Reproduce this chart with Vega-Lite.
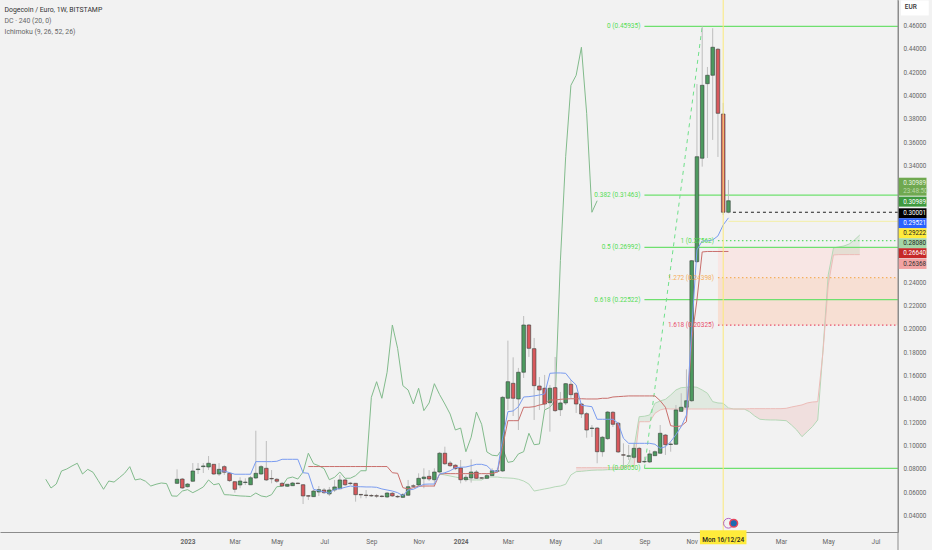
{
  "$schema": "https://vega.github.io/schema/vega-lite/v6.json",
  "width": 898,
  "height": 532,
  "autosize": "none",
  "padding": {"left": 0, "top": 0, "right": 34, "bottom": 18},
  "background": "#f2f2f2",
  "config": {"view": {"stroke": null}, "font": "Roboto", "text": {"font": "Roboto"}},
  "resolve": {"scale": {"color": "independent"}, "axis": {"x": "independent", "y": "independent"}},
  "datasets": {
    "candles": [
      {"week":"2022-12-19","o":0.0677,"h":0.0797,"l":0.0671,"c":0.0712,"lag":"2022-06-27"},
      {"week":"2022-12-26","o":0.0714,"h":0.0723,"l":0.0629,"c":0.0637,"lag":"2022-07-04"},
      {"week":"2023-01-02","o":0.0648,"h":0.068,"l":0.0641,"c":0.0671,"lag":"2022-07-11"},
      {"week":"2023-01-09","o":0.0695,"h":0.0851,"l":0.0689,"c":0.0783,"lag":"2022-07-18"},
      {"week":"2023-01-16","o":0.0795,"h":0.0851,"l":0.0757,"c":0.08,"lag":"2022-07-25"},
      {"week":"2023-01-23","o":0.082,"h":0.0851,"l":0.0766,"c":0.0826,"lag":"2022-08-01"},
      {"week":"2023-01-30","o":0.0817,"h":0.0911,"l":0.0791,"c":0.0849,"lag":"2022-08-08"},
      {"week":"2023-02-06","o":0.084,"h":0.0843,"l":0.0749,"c":0.0757,"lag":"2022-08-15"},
      {"week":"2023-02-13","o":0.0757,"h":0.0851,"l":0.074,"c":0.0797,"lag":"2022-08-22"},
      {"week":"2023-02-20","o":0.082,"h":0.0834,"l":0.0749,"c":0.0772,"lag":"2022-08-29"},
      {"week":"2023-02-27","o":0.0763,"h":0.0774,"l":0.0689,"c":0.07,"lag":"2022-09-05"},
      {"week":"2023-03-06","o":0.0691,"h":0.0697,"l":0.0597,"c":0.0626,"lag":"2022-09-12"},
      {"week":"2023-03-13","o":0.0663,"h":0.0729,"l":0.0635,"c":0.0697,"lag":"2022-09-19"},
      {"week":"2023-03-20","o":0.0684,"h":0.072,"l":0.0663,"c":0.0688,"lag":"2022-09-26"},
      {"week":"2023-03-27","o":0.0665,"h":0.074,"l":0.0663,"c":0.0725,"lag":"2022-10-03"},
      {"week":"2023-04-03","o":0.0723,"h":0.1128,"l":0.0714,"c":0.0763,"lag":"2022-10-10"},
      {"week":"2023-04-10","o":0.0757,"h":0.0834,"l":0.0749,"c":0.082,"lag":"2022-10-17"},
      {"week":"2023-04-17","o":0.0806,"h":0.104,"l":0.0697,"c":0.0706,"lag":"2022-10-24"},
      {"week":"2023-04-24","o":0.0719,"h":0.0791,"l":0.0677,"c":0.0715,"lag":"2022-10-31"},
      {"week":"2023-05-01","o":0.0712,"h":0.0723,"l":0.068,"c":0.0695,"lag":"2022-11-07"},
      {"week":"2023-05-08","o":0.0677,"h":0.0689,"l":0.0646,"c":0.0654,"lag":"2022-11-14"},
      {"week":"2023-05-15","o":0.0652,"h":0.0671,"l":0.0646,"c":0.0669,"lag":"2022-11-21"},
      {"week":"2023-05-22","o":0.0657,"h":0.0689,"l":0.0654,"c":0.068,"lag":"2022-11-28"},
      {"week":"2023-05-29","o":0.0679,"h":0.0684,"l":0.0671,"c":0.0675,"lag":"2022-12-05"},
      {"week":"2023-06-05","o":0.0665,"h":0.0671,"l":0.05,"c":0.0569,"lag":"2022-12-12"},
      {"week":"2023-06-12","o":0.0571,"h":0.0577,"l":0.0534,"c":0.0567,"lag":"2022-12-19"},
      {"week":"2023-06-19","o":0.0563,"h":0.062,"l":0.056,"c":0.0611,"lag":"2022-12-26"},
      {"week":"2023-06-26","o":0.0603,"h":0.0654,"l":0.0569,"c":0.0623,"lag":"2023-01-02"},
      {"week":"2023-07-03","o":0.062,"h":0.0637,"l":0.0586,"c":0.0597,"lag":"2023-01-09"},
      {"week":"2023-07-10","o":0.0586,"h":0.0646,"l":0.0569,"c":0.062,"lag":"2023-01-16"},
      {"week":"2023-07-17","o":0.062,"h":0.0706,"l":0.0603,"c":0.0646,"lag":"2023-01-23"},
      {"week":"2023-07-24","o":0.0631,"h":0.0749,"l":0.0629,"c":0.0706,"lag":"2023-01-30"},
      {"week":"2023-07-31","o":0.0706,"h":0.0714,"l":0.0654,"c":0.0665,"lag":"2023-02-06"},
      {"week":"2023-08-07","o":0.0679,"h":0.0689,"l":0.0663,"c":0.0675,"lag":"2023-02-13"},
      {"week":"2023-08-14","o":0.0677,"h":0.068,"l":0.052,"c":0.058,"lag":"2023-02-20"},
      {"week":"2023-08-21","o":0.0582,"h":0.0586,"l":0.0549,"c":0.0578,"lag":"2023-02-27"},
      {"week":"2023-08-28","o":0.0577,"h":0.062,"l":0.0549,"c":0.0573,"lag":"2023-03-06"},
      {"week":"2023-09-04","o":0.0573,"h":0.0586,"l":0.056,"c":0.0569,"lag":"2023-03-13"},
      {"week":"2023-09-11","o":0.0571,"h":0.0586,"l":0.0551,"c":0.0567,"lag":"2023-03-20"},
      {"week":"2023-09-18","o":0.0568,"h":0.0577,"l":0.0556,"c":0.0564,"lag":"2023-03-27"},
      {"week":"2023-09-25","o":0.056,"h":0.0603,"l":0.0551,"c":0.0594,"lag":"2023-04-03"},
      {"week":"2023-10-02","o":0.0592,"h":0.0603,"l":0.056,"c":0.0569,"lag":"2023-04-10"},
      {"week":"2023-10-09","o":0.0565,"h":0.0577,"l":0.0551,"c":0.0561,"lag":"2023-04-17"},
      {"week":"2023-10-16","o":0.0557,"h":0.0594,"l":0.0551,"c":0.058,"lag":"2023-04-24"},
      {"week":"2023-10-23","o":0.0575,"h":0.0706,"l":0.0569,"c":0.0648,"lag":"2023-05-01"},
      {"week":"2023-10-30","o":0.0656,"h":0.0671,"l":0.0637,"c":0.0652,"lag":"2023-05-08"},
      {"week":"2023-11-06","o":0.0663,"h":0.0763,"l":0.0654,"c":0.072,"lag":"2023-05-15"},
      {"week":"2023-11-13","o":0.0717,"h":0.0806,"l":0.0635,"c":0.0731,"lag":"2023-05-22"},
      {"week":"2023-11-20","o":0.0737,"h":0.0791,"l":0.0697,"c":0.0714,"lag":"2023-05-29"},
      {"week":"2023-11-27","o":0.0708,"h":0.0806,"l":0.0648,"c":0.0774,"lag":"2023-06-05"},
      {"week":"2023-12-04","o":0.0774,"h":0.0946,"l":0.0766,"c":0.0935,"lag":"2023-06-12"},
      {"week":"2023-12-11","o":0.0935,"h":0.0991,"l":0.0834,"c":0.0845,"lag":"2023-06-19"},
      {"week":"2023-12-18","o":0.0851,"h":0.0869,"l":0.0817,"c":0.0828,"lag":"2023-06-26"},
      {"week":"2023-12-25","o":0.0832,"h":0.0843,"l":0.0791,"c":0.0803,"lag":"2023-07-03"},
      {"week":"2024-01-01","o":0.0809,"h":0.0877,"l":0.0677,"c":0.0708,"lag":"2023-07-10"},
      {"week":"2024-01-08","o":0.0708,"h":0.0749,"l":0.0691,"c":0.0729,"lag":"2023-07-17"},
      {"week":"2024-01-15","o":0.0723,"h":0.0883,"l":0.0683,"c":0.0774,"lag":"2023-07-24"},
      {"week":"2024-01-22","o":0.0774,"h":0.0791,"l":0.0714,"c":0.072,"lag":"2023-07-31"},
      {"week":"2024-01-29","o":0.0725,"h":0.0731,"l":0.0714,"c":0.0721,"lag":"2023-08-07"},
      {"week":"2024-02-05","o":0.072,"h":0.0757,"l":0.0714,"c":0.0743,"lag":"2023-08-14"},
      {"week":"2024-02-12","o":0.0743,"h":0.0806,"l":0.074,"c":0.0785,"lag":"2023-08-21"},
      {"week":"2024-02-19","o":0.0781,"h":0.0809,"l":0.0766,"c":0.0785,"lag":"2023-08-28"},
      {"week":"2024-02-26","o":0.0783,"h":0.1426,"l":0.0774,"c":0.1414,"lag":"2023-09-04"},
      {"week":"2024-03-04","o":0.1406,"h":0.19,"l":0.1306,"c":0.1548,"lag":"2023-09-11"},
      {"week":"2024-03-11","o":0.1534,"h":0.1757,"l":0.1254,"c":0.1406,"lag":"2023-09-18"},
      {"week":"2024-03-18","o":0.14,"h":0.1666,"l":0.1134,"c":0.1629,"lag":"2023-09-25"},
      {"week":"2024-03-25","o":0.1629,"h":0.2111,"l":0.158,"c":0.2034,"lag":"2023-10-02"},
      {"week":"2024-04-01","o":0.2034,"h":0.2043,"l":0.176,"c":0.1834,"lag":"2023-10-09"},
      {"week":"2024-04-08","o":0.1831,"h":0.1923,"l":0.122,"c":0.1514,"lag":"2023-10-16"},
      {"week":"2024-04-15","o":0.1511,"h":0.1588,"l":0.1306,"c":0.1477,"lag":"2023-10-23"},
      {"week":"2024-04-22","o":0.1492,"h":0.1606,"l":0.1306,"c":0.1357,"lag":"2023-10-30"},
      {"week":"2024-04-29","o":0.1368,"h":0.152,"l":0.112,"c":0.1492,"lag":"2023-11-06"},
      {"week":"2024-05-06","o":0.1497,"h":0.176,"l":0.1288,"c":0.13,"lag":"2023-11-13"},
      {"week":"2024-05-13","o":0.1308,"h":0.146,"l":0.1254,"c":0.1366,"lag":"2023-11-20"},
      {"week":"2024-05-20","o":0.1366,"h":0.1537,"l":0.1348,"c":0.1531,"lag":"2023-11-27"},
      {"week":"2024-05-27","o":0.1526,"h":0.1563,"l":0.1408,"c":0.1437,"lag":"2023-12-04"},
      {"week":"2024-06-03","o":0.1449,"h":0.146,"l":0.128,"c":0.1357,"lag":"2023-12-11"},
      {"week":"2024-06-10","o":0.1357,"h":0.1366,"l":0.1237,"c":0.1271,"lag":"2023-12-18"},
      {"week":"2024-06-17","o":0.1274,"h":0.1288,"l":0.1068,"c":0.1134,"lag":"2023-12-25"},
      {"week":"2024-06-24","o":0.1147,"h":0.1177,"l":0.1074,"c":0.1151,"lag":"2024-01-01"},
      {"week":"2024-07-01","o":0.1151,"h":0.116,"l":0.0849,"c":0.0948,"lag":"2024-01-08"},
      {"week":"2024-07-08","o":0.0948,"h":0.1083,"l":0.0905,"c":0.1072,"lag":"2024-01-15"},
      {"week":"2024-07-15","o":0.106,"h":0.1297,"l":0.1049,"c":0.1288,"lag":"2024-01-22"},
      {"week":"2024-07-22","o":0.1286,"h":0.1297,"l":0.116,"c":0.1183,"lag":"2024-01-29"},
      {"week":"2024-07-29","o":0.1192,"h":0.1203,"l":0.0937,"c":0.0946,"lag":"2024-02-05"},
      {"week":"2024-08-05","o":0.0922,"h":0.102,"l":0.0805,"c":0.0918,"lag":"2024-02-12"},
      {"week":"2024-08-12","o":0.0909,"h":0.1006,"l":0.0877,"c":0.0913,"lag":"2024-02-19"},
      {"week":"2024-08-19","o":0.09,"h":0.1023,"l":0.0886,"c":0.0977,"lag":"2024-02-26"},
      {"week":"2024-08-26","o":0.0977,"h":0.0989,"l":0.0851,"c":0.0857,"lag":"2024-03-04"},
      {"week":"2024-09-02","o":0.0861,"h":0.0905,"l":0.0851,"c":0.0865,"lag":"2024-03-11"},
      {"week":"2024-09-09","o":0.086,"h":0.0963,"l":0.0851,"c":0.0929,"lag":"2024-03-18"},
      {"week":"2024-09-16","o":0.0914,"h":0.0959,"l":0.0911,"c":0.0948,"lag":"2024-03-25"},
      {"week":"2024-09-23","o":0.0935,"h":0.1177,"l":0.0929,"c":0.1106,"lag":"2024-04-01"},
      {"week":"2024-09-30","o":0.1091,"h":0.11,"l":0.092,"c":0.1008,"lag":"2024-04-08"},
      {"week":"2024-10-07","o":0.101,"h":0.1034,"l":0.0948,"c":0.1014,"lag":"2024-04-15"},
      {"week":"2024-10-14","o":0.1012,"h":0.1348,"l":0.1006,"c":0.1306,"lag":"2024-04-22"},
      {"week":"2024-10-21","o":0.1294,"h":0.1449,"l":0.1288,"c":0.1329,"lag":"2024-04-29"},
      {"week":"2024-10-28","o":0.1329,"h":0.1654,"l":0.1323,"c":0.1385,"lag":"2024-05-06"},
      {"week":"2024-11-04","o":0.1385,"h":0.2591,"l":0.1374,"c":0.2585,"lag":"2024-05-13"},
      {"week":"2024-11-11","o":0.2577,"h":0.4099,"l":0.2565,"c":0.3476,"lag":"2024-05-20"},
      {"week":"2024-11-18","o":0.3463,"h":0.45935,"l":0.3391,"c":0.4088,"lag":"2024-05-27"},
      {"week":"2024-11-25","o":0.4102,"h":0.4245,"l":0.3465,"c":0.4174,"lag":"2024-06-03"},
      {"week":"2024-12-02","o":0.4174,"h":0.4577,"l":0.362,"c":0.4414,"lag":"2024-06-10"},
      {"week":"2024-12-09","o":0.4397,"h":0.4408,"l":0.3474,"c":0.3848,"lag":"2024-06-17"},
      {"week":"2024-12-16","o":0.3842,"h":0.3937,"l":0.2977,"c":0.3,"lag":"2024-06-24"},
      {"week":"2024-12-23","o":0.3,"h":0.3277,"l":0.2991,"c":0.30989,"lag":"2024-07-01"}
    ],
    "ichimoku": [
      {"week":"2023-02-13","tenkan":0.0783},{"week":"2023-02-20","tenkan":0.0783},{"week":"2023-02-27","tenkan":0.0768},
      {"week":"2023-03-06","tenkan":0.0755},{"week":"2023-03-13","tenkan":0.0755},{"week":"2023-03-20","tenkan":0.0755},
      {"week":"2023-03-27","tenkan":0.0755},{"week":"2023-04-03","tenkan":0.0863},{"week":"2023-04-10","tenkan":0.0863},
      {"week":"2023-04-17","tenkan":0.0863},{"week":"2023-04-24","tenkan":0.0863},{"week":"2023-05-01","tenkan":0.0866},
      {"week":"2023-05-08","tenkan":0.0883},{"week":"2023-05-15","tenkan":0.0883},{"week":"2023-05-22","tenkan":0.0883},
      {"week":"2023-05-29","tenkan":0.0883},{"week":"2023-06-05","tenkan":0.0768},
      {"week":"2023-06-12","tenkan":0.0763,"kijun":0.0821},{"week":"2023-06-19","tenkan":0.0626,"kijun":0.0821},
      {"week":"2023-06-26","tenkan":0.0614,"kijun":0.0821},{"week":"2023-07-03","tenkan":0.0603,"kijun":0.0821},
      {"week":"2023-07-10","tenkan":0.0592,"kijun":0.0821},{"week":"2023-07-17","tenkan":0.0626,"kijun":0.0821},
      {"week":"2023-07-24","tenkan":0.0631,"kijun":0.0821},{"week":"2023-07-31","tenkan":0.0643,"kijun":0.0821},
      {"week":"2023-08-07","tenkan":0.0654,"kijun":0.0821},{"week":"2023-08-14","tenkan":0.0648,"kijun":0.0821},
      {"week":"2023-08-21","tenkan":0.0648,"kijun":0.0821},{"week":"2023-08-28","tenkan":0.0646,"kijun":0.0821},
      {"week":"2023-09-04","tenkan":0.0646,"kijun":0.0821},{"week":"2023-09-11","tenkan":0.0643,"kijun":0.0821},
      {"week":"2023-09-18","tenkan":0.0629,"kijun":0.0821},{"week":"2023-09-25","tenkan":0.062,"kijun":0.0821},
      {"week":"2023-10-02","tenkan":0.0611,"kijun":0.0768},{"week":"2023-10-09","tenkan":0.0597,"kijun":0.0763},
      {"week":"2023-10-16","tenkan":0.0571,"kijun":0.064},{"week":"2023-10-23","tenkan":0.062,"kijun":0.0629},
      {"week":"2023-10-30","tenkan":0.0626,"kijun":0.064},{"week":"2023-11-06","tenkan":0.0648,"kijun":0.0652},
      {"week":"2023-11-13","tenkan":0.0669,"kijun":0.0654},{"week":"2023-11-20","tenkan":0.0671,"kijun":0.0654},
      {"week":"2023-11-27","tenkan":0.0671,"kijun":0.0654},{"week":"2023-12-04","tenkan":0.0757,"kijun":0.0757},
      {"week":"2023-12-11","tenkan":0.0768,"kijun":0.076},{"week":"2023-12-18","tenkan":0.0785,"kijun":0.076},
      {"week":"2023-12-25","tenkan":0.0811,"kijun":0.076},{"week":"2024-01-01","tenkan":0.0815,"kijun":0.076},
      {"week":"2024-01-08","tenkan":0.0817,"kijun":0.076},{"week":"2024-01-15","tenkan":0.0828,"kijun":0.076},
      {"week":"2024-01-22","tenkan":0.084,"kijun":0.076},{"week":"2024-01-29","tenkan":0.084,"kijun":0.076},
      {"week":"2024-02-05","tenkan":0.0828,"kijun":0.076},{"week":"2024-02-12","tenkan":0.0785,"kijun":0.076},
      {"week":"2024-02-19","tenkan":0.078,"kijun":0.0774},{"week":"2024-02-26","tenkan":0.1066,"kijun":0.0991},
      {"week":"2024-03-04","tenkan":0.1291,"kijun":0.1214},{"week":"2024-03-11","tenkan":0.1297,"kijun":0.1214},
      {"week":"2024-03-18","tenkan":0.1334,"kijun":0.1214},{"week":"2024-03-25","tenkan":0.1417,"kijun":0.1329},
      {"week":"2024-04-01","tenkan":0.142,"kijun":0.1329},{"week":"2024-04-08","tenkan":0.1426,"kijun":0.1334},
      {"week":"2024-04-15","tenkan":0.1434,"kijun":0.1348},{"week":"2024-04-22","tenkan":0.1443,"kijun":0.1357},
      {"week":"2024-04-29","tenkan":0.162,"kijun":0.1391},{"week":"2024-05-06","tenkan":0.1623,"kijun":0.1391},
      {"week":"2024-05-13","tenkan":0.1623,"kijun":0.1397},{"week":"2024-05-20","tenkan":0.162,"kijun":0.14},
      {"week":"2024-05-27","tenkan":0.1563,"kijun":0.1402},{"week":"2024-06-03","tenkan":0.152,"kijun":0.1402},
      {"week":"2024-06-10","tenkan":0.1346,"kijun":0.1402},{"week":"2024-06-17","tenkan":0.134,"kijun":0.14},
      {"week":"2024-06-24","tenkan":0.1334,"kijun":0.14},{"week":"2024-07-01","tenkan":0.1226,"kijun":0.14},
      {"week":"2024-07-08","tenkan":0.1226,"kijun":0.1406},{"week":"2024-07-15","tenkan":0.1226,"kijun":0.1406},
      {"week":"2024-07-22","tenkan":0.1226,"kijun":0.1417},{"week":"2024-07-29","tenkan":0.1192,"kijun":0.142},
      {"week":"2024-08-05","tenkan":0.1063,"kijun":0.1423},{"week":"2024-08-12","tenkan":0.102,"kijun":0.1426},
      {"week":"2024-08-19","tenkan":0.102,"kijun":0.1426},{"week":"2024-08-26","tenkan":0.102,"kijun":0.1426},
      {"week":"2024-09-02","tenkan":0.102,"kijun":0.1426},{"week":"2024-09-09","tenkan":0.102,"kijun":0.1426},
      {"week":"2024-09-16","tenkan":0.1012,"kijun":0.1426},{"week":"2024-09-23","tenkan":0.0977,"kijun":0.1385},
      {"week":"2024-09-30","tenkan":0.0991,"kijun":0.1329},{"week":"2024-10-07","tenkan":0.1034,"kijun":0.1171},
      {"week":"2024-10-14","tenkan":0.1094,"kijun":0.1163},{"week":"2024-10-21","tenkan":0.1163,"kijun":0.1169},
      {"week":"2024-10-28","tenkan":0.1263,"kijun":0.1205},{"week":"2024-11-04","tenkan":0.1991,"kijun":0.1906},
      {"week":"2024-11-11","tenkan":0.2677,"kijun":0.2248},{"week":"2024-11-18","tenkan":0.2754,"kijun":0.266},
      {"week":"2024-11-25","tenkan":0.2754,"kijun":0.2664},{"week":"2024-12-02","tenkan":0.2763,"kijun":0.2664},
      {"week":"2024-12-09","tenkan":0.2797,"kijun":0.2664},{"week":"2024-12-16","tenkan":0.2891,"kijun":0.2664},
      {"week":"2024-12-23","tenkan":0.29521,"kijun":0.2664}
    ],
    "kumo": [
      {"week":"2023-12-04","a":0.0757},{"week":"2023-12-11","a":0.0749},{"week":"2023-12-18","a":0.074},{"week":"2023-12-25","a":0.0731},
      {"week":"2024-01-01","a":0.0723},{"week":"2024-01-08","a":0.0714},{"week":"2024-01-15","a":0.0706},{"week":"2024-01-22","a":0.0706},
      {"week":"2024-01-29","a":0.0706},{"week":"2024-02-05","a":0.0731},{"week":"2024-02-12","a":0.0731},{"week":"2024-02-19","a":0.0731},
      {"week":"2024-02-26","a":0.0725},{"week":"2024-03-04","a":0.0723},{"week":"2024-03-11","a":0.072},{"week":"2024-03-18","a":0.0712},
      {"week":"2024-03-25","a":0.0697},{"week":"2024-04-01","a":0.0671},{"week":"2024-04-08","a":0.0611},{"week":"2024-04-15","a":0.062},
      {"week":"2024-04-22","a":0.0629},{"week":"2024-04-29","a":0.0637},{"week":"2024-05-06","a":0.0648},{"week":"2024-05-13","a":0.0654},
      {"week":"2024-05-20","a":0.0669},{"week":"2024-05-27","a":0.0749},
      {"week":"2024-06-03","a":0.0777,"b":0.0811,"seg":"r1"},{"week":"2024-06-10","a":0.078,"b":0.0811,"seg":"r1"},
      {"week":"2024-06-17","a":0.0785,"b":0.0811,"seg":"r1"},{"week":"2024-06-24","a":0.0789,"b":0.0811,"seg":"r1"},
      {"week":"2024-07-01","a":0.0791,"b":0.0811,"seg":"r1"},{"week":"2024-07-08","a":0.0791,"b":0.0811,"seg":"r1"},
      {"week":"2024-07-15","a":0.0794,"b":0.0811,"seg":"r1"},{"week":"2024-07-22","a":0.0794,"b":0.0811,"seg":"r1"},
      {"week":"2024-07-29","a":0.0797,"b":0.0811,"seg":"r1"},{"week":"2024-08-05","a":0.0797,"b":0.082,"seg":"r1"},
      {"week":"2024-08-12","a":0.0849,"b":0.082,"seg":"g1"},{"week":"2024-08-19","a":0.0977,"b":0.082,"seg":"g1"},
      {"week":"2024-08-26","a":0.1248,"b":0.1205,"seg":"g1"},{"week":"2024-09-02","a":0.1252,"b":0.1205,"seg":"g1"},
      {"week":"2024-09-09","a":0.1263,"b":0.1205,"seg":"g1"},{"week":"2024-09-16","a":0.1363,"b":0.1277,"seg":"g1"},
      {"week":"2024-09-23","a":0.1383,"b":0.1306,"seg":"g1"},{"week":"2024-09-30","a":0.1397,"b":0.1317,"seg":"g1"},
      {"week":"2024-10-07","a":0.1434,"b":0.1314,"seg":"g1"},{"week":"2024-10-14","a":0.1477,"b":0.1314,"seg":"g1"},
      {"week":"2024-10-21","a":0.1497,"b":0.1314,"seg":"g1"},{"week":"2024-10-28","a":0.15,"b":0.1314,"seg":"g1"},
      {"week":"2024-11-04","a":0.1505,"b":0.1314,"seg":"g1"},{"week":"2024-11-11","a":0.15,"b":0.1314,"seg":"g1"},
      {"week":"2024-11-18","a":0.1477,"b":0.1314,"seg":"g1"},{"week":"2024-11-25","a":0.1449,"b":0.1314,"seg":"g1"},
      {"week":"2024-12-02","a":0.1377,"b":0.1314,"seg":"g1"},{"week":"2024-12-09","a":0.1366,"b":0.1314,"seg":"g1"},
      {"week":"2024-12-16","a":0.1363,"b":0.1314,"seg":"g1"},{"week":"2024-12-23","a":0.1323,"b":0.1314,"seg":"g1"},
      {"week":"2024-12-30","a":0.1314,"b":0.1314,"seg":"r2"},{"week":"2025-01-06","a":0.1314,"b":0.1314,"seg":"r2"},
      {"week":"2025-01-13","a":0.1314,"b":0.1314,"seg":"r2"},{"week":"2025-01-20","a":0.1291,"b":0.1317,"seg":"r2"},
      {"week":"2025-01-27","a":0.1254,"b":0.1317,"seg":"r2"},{"week":"2025-02-03","a":0.1226,"b":0.1317,"seg":"r2"},
      {"week":"2025-02-10","a":0.1222,"b":0.1317,"seg":"r2"},{"week":"2025-02-17","a":0.122,"b":0.1317,"seg":"r2"},
      {"week":"2025-02-24","a":0.122,"b":0.1317,"seg":"r2"},{"week":"2025-03-03","a":0.1217,"b":0.1317,"seg":"r2"},
      {"week":"2025-03-10","a":0.1214,"b":0.132,"seg":"r2"},{"week":"2025-03-17","a":0.1177,"b":0.1331,"seg":"r2"},
      {"week":"2025-03-24","a":0.1134,"b":0.134,"seg":"r2"},{"week":"2025-03-31","a":0.1077,"b":0.1349,"seg":"r2"},
      {"week":"2025-04-07","a":0.112,"b":0.1366,"seg":"r2"},{"week":"2025-04-14","a":0.1163,"b":0.1374,"seg":"r2"},
      {"week":"2025-04-21","a":0.122,"b":0.1377,"seg":"r2"},
      {"week":"2025-04-28","a":0.182,"b":0.18,"seg":"g2"},{"week":"2025-05-05","a":0.2463,"b":0.2377,"seg":"g2"},
      {"week":"2025-05-12","a":0.2694,"b":0.2634,"seg":"g2"},{"week":"2025-05-19","a":0.2703,"b":0.2637,"seg":"g2"},
      {"week":"2025-05-26","a":0.2711,"b":0.2637,"seg":"g2"},{"week":"2025-06-02","a":0.2728,"b":0.2637,"seg":"g2"},
      {"week":"2025-06-09","a":0.2763,"b":0.2637,"seg":"g2"},{"week":"2025-06-16","a":0.2805,"b":0.2637,"seg":"g2"}
    ],
    "fib": [
      {"price":0.45935,"label":"0 (0.45935)","start":"2024-09-02","end":"2025-08-06","kind":"retrace"},
      {"price":0.31463,"label":"0.382 (0.31463)","start":"2024-09-02","end":"2025-08-06","kind":"retrace"},
      {"price":0.26992,"label":"0.5 (0.26992)","start":"2024-09-02","end":"2025-08-06","kind":"retrace"},
      {"price":0.22522,"label":"0.618 (0.22522)","start":"2024-09-02","end":"2025-08-06","kind":"retrace"},
      {"price":0.0805,"label":"1 (0.08050)","start":"2024-09-02","end":"2025-08-06","kind":"retrace"},
      {"price":0.27562,"label":"1 (0.27562)","start":"2024-12-09","end":"2025-08-06","kind":"target"},
      {"price":0.24398,"label":"1.272 (0.24398)","start":"2024-12-09","end":"2025-08-06","kind":"orange"},
      {"price":0.20325,"label":"1.618 (0.20325)","start":"2024-12-09","end":"2025-08-06","kind":"stop"}
    ],
    "tags": [
      {"pos":0.3091,"label":"0.30989","name":"last","from":"2025-08-07","to":"2025-09-13"},
      {"pos":0.2991,"label":"0.30001","name":"black","from":"2025-08-07","to":"2025-09-13"},
      {"pos":0.2906,"label":"0.29521","name":"tenkan","from":"2025-08-07","to":"2025-09-13"},
      {"pos":0.282,"label":"0.29222","name":"yellow","from":"2025-08-07","to":"2025-09-13"},
      {"pos":0.2734,"label":"0.28080","name":"spanA","from":"2025-08-07","to":"2025-09-13"},
      {"pos":0.2649,"label":"0.26640","name":"kijun","from":"2025-08-07","to":"2025-09-13"},
      {"pos":0.2557,"label":"0.26368","name":"spanB","from":"2025-08-07","to":"2025-09-13"}
    ]
  },
  "layer": [
    {
      "data": {"values": [
        {"start":"2024-12-09","end":"2025-08-06","top":0.26992,"bottom":0.24398,"zone":"upper"},
        {"start":"2024-12-09","end":"2025-08-06","top":0.24398,"bottom":0.20325,"zone":"lower"}
      ]},
      "mark": {"type": "rect"},
      "encoding": {
        "x": {"field": "start", "type": "temporal", "title": null,
          "scale": {"type": "utc", "domain": ["2022-04-27", "2025-08-06"], "nice": false, "padding": 0},
          "axis": {
            "values": ["2023-01-02","2023-03-06","2023-05-01","2023-07-03","2023-09-04","2023-11-06","2024-01-01","2024-03-04","2024-05-06","2024-07-01","2024-09-02","2024-11-04","2025-03-03","2025-05-05","2025-07-07"],
            "labelExpr": "utcmonth(datum.value)===0 ? utcFormat(datum.value,'%Y') : utcFormat(datum.value,'%b')",
            "labelFontWeight": {"condition": {"test": "utcmonth(datum.value)===0", "value": "bold"}, "value": "normal"},
            "labelFontSize": 6.5, "labelColor": "#666666", "labelPadding": 6, "labelOverlap": false, "labelFlush": false,
            "grid": false, "ticks": false, "domainColor": "#8c8c8c", "domainWidth": 1
          }
        },
        "x2": {"field": "end"},
        "y": {"field": "top", "type": "quantitative", "title": null,
          "scale": {"domain": [0.026, 0.4819], "zero": false, "nice": false},
          "axis": {
            "orient": "right",
            "values": [0.04,0.06,0.08,0.1,0.12,0.14,0.16,0.18,0.2,0.22,0.24,0.34,0.36,0.38,0.4,0.42,0.44,0.46],
            "format": ".5f", "labelFontSize": 6.3, "labelColor": "#666666", "labelPadding": 5,
            "grid": false, "ticks": false, "domainColor": "#8c8c8c", "domainWidth": 1
          }
        },
        "y2": {"field": "bottom"},
        "color": {"field": "zone", "type": "nominal", "legend": null,
          "scale": {"domain": ["upper", "lower"], "range": ["#f8e6e4", "#f7dfd3"]}}
      }
    },
    {
      "data": {"name": "kumo"},
      "transform": [{"filter": "datum.seg != null"}],
      "mark": {"type": "area", "opacity": 0.1},
      "encoding": {
        "x": {"field": "week", "type": "temporal", "axis": null},
        "y": {"field": "a", "type": "quantitative", "axis": null},
        "y2": {"field": "b"},
        "color": {"field": "seg", "type": "nominal", "legend": null,
          "scale": {"domain": ["r1", "g1", "r2", "g2"], "range": ["#e53935", "#43a047", "#e53935", "#43a047"]}}
      }
    },
    {
      "data": {"name": "kumo"},
      "mark": {"type": "line", "color": "#b5d8b7", "strokeWidth": 1},
      "encoding": {
        "x": {"field": "week", "type": "temporal", "axis": null},
        "y": {"field": "a", "type": "quantitative", "axis": null}
      }
    },
    {
      "data": {"name": "kumo"},
      "transform": [{"filter": "datum.b != null"}],
      "mark": {"type": "line", "color": "#ecbcb8", "strokeWidth": 1},
      "encoding": {
        "x": {"field": "week", "type": "temporal", "axis": null},
        "y": {"field": "b", "type": "quantitative", "axis": null}
      }
    },
    {
      "data": {"name": "fib"},
      "transform": [{"filter": "datum.kind == 'retrace'"}],
      "mark": {"type": "rule", "strokeWidth": 1.2},
      "encoding": {
        "x": {"field": "start", "type": "temporal", "axis": null},
        "x2": {"field": "end"},
        "y": {"field": "price", "type": "quantitative", "axis": null},
        "color": {"value": "#6fe06f"}
      }
    },
    {
      "data": {"name": "fib"},
      "transform": [{"filter": "datum.kind != 'retrace'"}],
      "mark": {"type": "rule", "strokeWidth": 1.2, "strokeDash": [1.5, 2.5]},
      "encoding": {
        "x": {"field": "start", "type": "temporal", "axis": null},
        "x2": {"field": "end"},
        "y": {"field": "price", "type": "quantitative", "axis": null},
        "color": {"field": "kind", "type": "nominal", "legend": null,
          "scale": {"domain": ["target", "orange", "stop"], "range": ["#5fdc6a", "#f5b05f", "#e8506c"]}}
      }
    },
    {
      "data": {"values": [
        {"week": "2024-09-02", "price": 0.0805},
        {"week": "2024-11-18", "price": 0.45935}
      ]},
      "mark": {"type": "line", "color": "#6fe08a", "strokeWidth": 1, "strokeDash": [4, 4]},
      "encoding": {
        "x": {"field": "week", "type": "temporal", "axis": null},
        "y": {"field": "price", "type": "quantitative", "axis": null}
      }
    },
    {
      "data": {"name": "candles"},
      "mark": {"type": "line", "color": "#82bb8c", "strokeWidth": 1},
      "encoding": {
        "x": {"field": "lag", "type": "temporal", "axis": null},
        "y": {"field": "c", "type": "quantitative", "axis": null}
      }
    },
    {
      "data": {"name": "candles"},
      "mark": {"type": "rule", "color": "#bdbdbd", "strokeWidth": 1},
      "encoding": {
        "x": {"field": "week", "type": "temporal", "axis": null},
        "y": {"field": "h", "type": "quantitative", "axis": null},
        "y2": {"field": "l"}
      }
    },
    {
      "data": {"name": "candles"},
      "mark": {"type": "bar", "size": 3.6, "stroke": "#38403a", "strokeWidth": 0.6},
      "encoding": {
        "x": {"field": "week", "type": "temporal", "axis": null},
        "y": {"field": "o", "type": "quantitative", "axis": null},
        "y2": {"field": "c"},
        "color": {"condition": {"test": "datum.c >= datum.o", "value": "#4d9a5f"}, "value": "#d8585c"}
      }
    },
    {
      "data": {"name": "ichimoku"},
      "mark": {"type": "line", "color": "#c96f6c", "strokeWidth": 1},
      "transform": [{"filter": "datum.kijun != null"}],
      "encoding": {
        "x": {"field": "week", "type": "temporal", "axis": null},
        "y": {"field": "kijun", "type": "quantitative", "axis": null}
      }
    },
    {
      "data": {"name": "ichimoku"},
      "mark": {"type": "line", "color": "#7a9cf0", "strokeWidth": 1},
      "encoding": {
        "x": {"field": "week", "type": "temporal", "axis": null},
        "y": {"field": "tenkan", "type": "quantitative", "axis": null}
      }
    },
    {
      "data": {"values": [
        {"start": "2024-12-23", "end": "2025-08-06", "price": 0.29222}
      ]},
      "mark": {"type": "rule", "color": "#f3efa6", "strokeWidth": 1},
      "encoding": {
        "x": {"field": "start", "type": "temporal", "axis": null},
        "x2": {"field": "end"},
        "y": {"field": "price", "type": "quantitative", "axis": null}
      }
    },
    {
      "data": {"values": [
        {"start": "2024-12-29", "end": "2025-08-06", "price": 0.30001}
      ]},
      "mark": {"type": "rule", "color": "#222222", "strokeWidth": 1, "strokeDash": [3, 3]},
      "encoding": {
        "x": {"field": "start", "type": "temporal", "axis": null},
        "x2": {"field": "end"},
        "y": {"field": "price", "type": "quantitative", "axis": null}
      }
    },
    {
      "data": {"values": [{"week": "2024-12-16"}]},
      "mark": {"type": "rule", "color": "#fbe97c", "strokeWidth": 1},
      "encoding": {"x": {"field": "week", "type": "temporal", "axis": null}}
    },
    {
      "data": {"name": "fib"},
      "mark": {"type": "text", "align": "right", "baseline": "middle", "dx": -4, "fontSize": 6.5, "clip": false},
      "encoding": {
        "x": {"field": "start", "type": "temporal", "axis": null},
        "y": {"field": "price", "type": "quantitative", "axis": null},
        "text": {"field": "label"},
        "color": {"field": "kind", "type": "nominal", "legend": null,
          "scale": {"domain": ["retrace", "target", "orange", "stop"], "range": ["#55dd55", "#55dd55", "#f5ae5a", "#e84f6c"]}}
      }
    },
    {
      "data": {"values": [{"week": "2024-12-23", "price": 0.0335, "name": "ring"}]},
      "mark": {"type": "point", "filled": false, "size": 95, "color": "#9c27b0", "strokeWidth": 1, "clip": false},
      "encoding": {
        "x": {"field": "week", "type": "temporal", "axis": null},
        "y": {"field": "price", "type": "quantitative", "axis": null}
      }
    },
    {
      "data": {"values": [{"week": "2024-12-30", "price": 0.0335, "name": "flag"}]},
      "mark": {"type": "point", "filled": true, "size": 60, "color": "#1c6bb0", "stroke": "#e8455c", "strokeWidth": 1.5, "opacity": 1, "clip": false},
      "encoding": {
        "x": {"field": "week", "type": "temporal", "axis": null},
        "y": {"field": "price", "type": "quantitative", "axis": null}
      }
    },
    {
      "data": {"values": [{"week": "2025-08-06", "top": 0.4819, "bottom": 0.0106}]},
      "mark": {"type": "rule", "color": "#8c8c8c", "strokeWidth": 1, "clip": false},
      "encoding": {
        "x": {"field": "week", "type": "temporal", "axis": null},
        "y": {"field": "top", "type": "quantitative", "axis": null},
        "y2": {"field": "bottom"}
      }
    },
    {
      "data": {"values": [{"start": "2025-08-07", "end": "2025-09-13", "price": 0.3219}]},
      "mark": {"type": "rule", "color": "#6fa84f", "strokeWidth": 18, "clip": false},
      "encoding": {
        "x": {"field": "start", "type": "temporal", "axis": null},
        "x2": {"field": "end"},
        "y": {"field": "price", "type": "quantitative", "axis": null}
      }
    },
    {
      "data": {"values": [{"start": "2025-08-10", "end": "2025-09-16", "price": 0.4751}]},
      "mark": {"type": "rule", "color": "#ffffff", "strokeWidth": 15, "clip": false},
      "encoding": {
        "x": {"field": "start", "type": "temporal", "axis": null},
        "x2": {"field": "end"},
        "y": {"field": "price", "type": "quantitative", "axis": null}
      }
    },
    {
      "data": {"name": "tags"},
      "mark": {"type": "rule", "strokeWidth": 10, "clip": false},
      "encoding": {
        "x": {"field": "from", "type": "temporal", "axis": null},
        "x2": {"field": "to"},
        "y": {"field": "pos", "type": "quantitative", "axis": null},
        "color": {"field": "name", "type": "nominal", "legend": null,
          "scale": {"domain": ["last", "black", "tenkan", "yellow", "spanA", "kijun", "spanB"],
            "range": ["#3f9a3f", "#000000", "#2962ff", "#ffeb3b", "#a5d6a7", "#c62828", "#f2a3a3"]}}
      }
    },
    {
      "data": {"name": "tags"},
      "mark": {"type": "text", "align": "left", "baseline": "middle", "dx": 4.5, "fontSize": 6.3, "clip": false},
      "encoding": {
        "x": {"field": "from", "type": "temporal", "axis": null},
        "y": {"field": "pos", "type": "quantitative", "axis": null},
        "text": {"field": "label"},
        "color": {"field": "name", "type": "nominal", "legend": null,
          "scale": {"domain": ["last", "black", "tenkan", "yellow", "spanA", "kijun", "spanB"],
            "range": ["#ffffff", "#ffffff", "#ffffff", "#222222", "#222222", "#ffffff", "#333333"]}}
      }
    },
    {
      "data": {"values": [
        {"from": "2025-08-07", "price": 0.3253, "label": "0.30989", "part": "price"},
        {"from": "2025-08-07", "price": 0.3185, "label": "23:48:50", "part": "clock"}
      ]},
      "mark": {"type": "text", "align": "left", "baseline": "middle", "dx": 4.5, "fontSize": 6.3, "clip": false},
      "encoding": {
        "x": {"field": "from", "type": "temporal", "axis": null},
        "y": {"field": "price", "type": "quantitative", "axis": null},
        "text": {"field": "label"},
        "color": {"field": "part", "type": "nominal", "legend": null,
          "scale": {"domain": ["price", "clock"], "range": ["#e9f3e0", "#bcd8a8"]}}
      }
    },
    {
      "data": {"values": [{"from": "2025-08-07", "price": 0.4755, "label": "EUR"}]},
      "mark": {"type": "text", "align": "left", "baseline": "middle", "dx": 6, "fontSize": 6.5, "fontWeight": 500, "color": "#333333", "clip": false},
      "encoding": {
        "x": {"field": "from", "type": "temporal", "axis": null},
        "y": {"field": "price", "type": "quantitative", "axis": null},
        "text": {"field": "label"}
      }
    },
    {
      "data": {"values": [{"start": "2024-11-15", "end": "2025-01-16", "price": 0.0215}]},
      "mark": {"type": "rule", "color": "#ffeb3b", "strokeWidth": 14, "clip": false},
      "encoding": {
        "x": {"field": "start", "type": "temporal", "axis": null},
        "x2": {"field": "end"},
        "y": {"field": "price", "type": "quantitative", "axis": null}
      }
    },
    {
      "data": {"values": [{"week": "2024-12-16", "price": 0.0195, "label": "Mon 16/12/24"}]},
      "mark": {"type": "text", "align": "center", "baseline": "middle", "fontSize": 6.5, "fontWeight": 500, "color": "#222222", "clip": false},
      "encoding": {
        "x": {"field": "week", "type": "temporal", "axis": null},
        "y": {"field": "price", "type": "quantitative", "axis": null},
        "text": {"field": "label"}
      }
    },
    {
      "data": {"values": [
        {"week": "2022-05-03", "price": 0.4734, "label": "Dogecoin / Euro, 1W, BITSTAMP", "row": "title"},
        {"week": "2022-05-03", "price": 0.4639, "label": "DC · 240 (20, 0)", "row": "study"},
        {"week": "2022-05-03", "price": 0.4545, "label": "Ichimoku (9, 26, 52, 26)", "row": "study"}
      ]},
      "mark": {"type": "text", "align": "left", "baseline": "middle", "fontSize": 6.9, "clip": false},
      "encoding": {
        "x": {"field": "week", "type": "temporal", "axis": null},
        "y": {"field": "price", "type": "quantitative", "axis": null},
        "text": {"field": "label"},
        "color": {"field": "row", "type": "nominal", "legend": null,
          "scale": {"domain": ["title", "study"], "range": ["#333333", "#666666"]}}
      }
    }
  ]
}
